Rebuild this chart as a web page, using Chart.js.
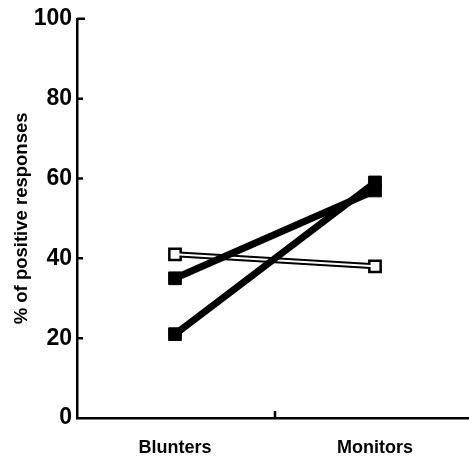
<!DOCTYPE html>
<html><head><meta charset="utf-8">
<script src="https://cdn.jsdelivr.net/npm/chart.js@4"></script>
<style>html,body{margin:0;padding:0;background:#fff}#wrap{width:469px;height:459px}</style>
</head><body><div id="wrap"><canvas id="c"></canvas></div>
<script>
const categories = ['Blunters', 'Monitors'];
const categoryPos = [1, 3];
const openSeries = [41, 38];
const filledA = [35, 57];
const filledB = [21, 59];
const yTicks = [0, 20, 40, 60, 80, 100];
const yTitle = '% of positive responses';

const pts = arr => arr.map((v, i) => ({x: categoryPos[i], y: v}));

const axisTicks = {
  id: 'axisTicks',
  afterDraw(chart) {
    const ctx = chart.ctx, xs = chart.scales.x, ys = chart.scales.y;
    const x0 = xs.left, y0 = ys.bottom;
    ctx.save();
    ctx.strokeStyle = '#000';
    ctx.lineWidth = 2.5;
    ctx.lineCap = 'butt';
    ctx.beginPath();
    yTicks.forEach(v => {
      if (v === 0) return;
      const py = ys.getPixelForValue(v);
      ctx.moveTo(x0, py); ctx.lineTo(x0 + (v === 100 ? 8 : 6), py);
    });
    const mx = xs.getPixelForValue((categoryPos[0] + categoryPos[1]) / 2);
    ctx.moveTo(mx, y0); ctx.lineTo(mx, y0 - 7);
    ctx.stroke();
    ctx.restore();
  }
};

new Chart(document.getElementById('c'), {
  type: 'line',
  data: {
    datasets: [
      {data: pts(openSeries), borderColor: '#000', borderWidth: 6, pointStyle: 'rect', pointRadius: 8, pointBackgroundColor: '#fff', pointBorderColor: '#000', pointBorderWidth: 2.5, order: 4},
      {data: pts(openSeries), borderColor: '#fff', borderWidth: 2, pointRadius: 0, order: 3},
      {data: pts(filledA), borderColor: '#000', borderWidth: 7, pointStyle: 'rect', pointRadius: 9, pointBackgroundColor: '#000', pointBorderColor: '#000', pointBorderWidth: 1, order: 2},
      {data: pts(filledB), borderColor: '#000', borderWidth: 7, pointStyle: 'rect', pointRadius: 9, pointBackgroundColor: '#000', pointBorderColor: '#000', pointBorderWidth: 1, order: 1}
    ]
  },
  options: {
    responsive: true, maintainAspectRatio: false, animation: false,
    layout: {autoPadding: false, padding: {top: 18, right: 0, left: 0, bottom: 0}},
    plugins: {legend: {display: false}, tooltip: {enabled: false}},
    scales: {
      x: {
        type: 'linear', min: 0.02, max: 3.94,
        afterBuildTicks: s => { s.ticks = categoryPos.map(v => ({value: v})); },
        afterFit: s => { s.height = 41; },
        grid: {display: false, drawTicks: false},
        border: {display: true, color: '#000', width: 2.5},
        ticks: {
          padding: 19, color: '#000', maxRotation: 0, autoSkip: false,
          font: {family: 'Liberation Sans', weight: 'bold', size: 18},
          callback: v => { const i = categoryPos.indexOf(v); return i >= 0 ? categories[i] : ''; }
        }
      },
      y: {
        min: 0, max: 100,
        afterBuildTicks: s => { s.ticks = yTicks.map(v => ({value: v})); },
        afterFit: s => { s.width = 77; },
        grid: {display: false, drawTicks: false},
        border: {display: true, color: '#000', width: 2.5},
        ticks: {padding: 5, color: '#000', font: {family: 'Liberation Sans', weight: 'bold', size: 23}},
        title: {display: true, text: yTitle, color: '#000', padding: {top: 11, bottom: 0},
          font: {family: 'Liberation Sans', weight: 'bold', size: 18.5}}
      }
    }
  },
  plugins: [axisTicks]
});
</script></body></html>
